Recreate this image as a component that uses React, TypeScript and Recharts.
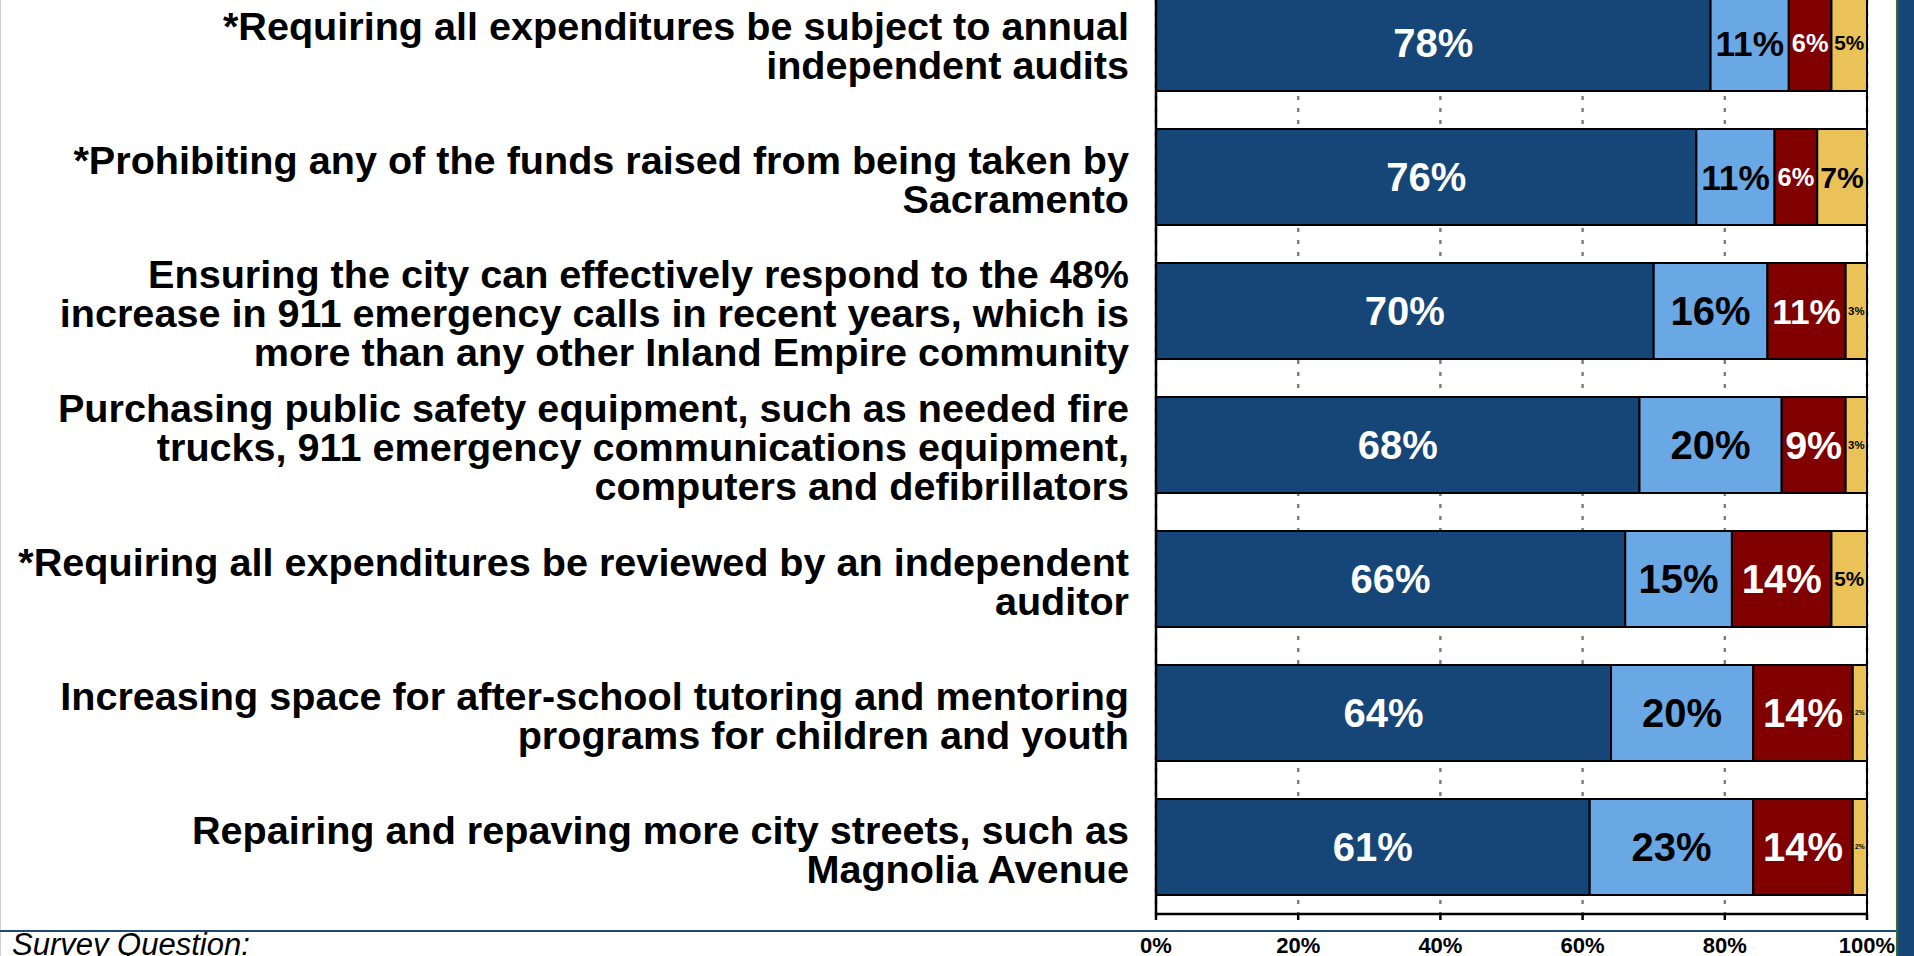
import React from "react";
import {
  BarChart,
  Bar,
  XAxis,
  YAxis,
  CartesianGrid,
  LabelList,
  ReferenceLine,
} from "recharts";

const items = [
  "*Requiring all expenditures be subject to annual\nindependent audits",
  "*Prohibiting any of the funds raised from being taken by\nSacramento",
  "Ensuring the city can effectively respond to the 48%\nincrease in 911 emergency calls in recent years, which is\nmore than any other Inland Empire community",
  "Purchasing public safety equipment, such as needed fire\ntrucks, 911 emergency communications equipment,\ncomputers and defibrillators",
  "*Requiring all expenditures be reviewed by an independent\nauditor",
  "Increasing space for after-school tutoring and mentoring\nprograms for children and youth",
  "Repairing and repaving more city streets, such as\nMagnolia Avenue",
];

const veryImportant = [78, 76, 70, 68, 66, 64, 61];
const somewhatImportant = [11, 11, 16, 20, 15, 20, 23];
const notImportant = [6, 6, 11, 9, 14, 14, 14];
const dontKnow = [5, 7, 3, 3, 5, 2, 2];

const xTicks = [0, 20, 40, 60, 80, 100];

const data = items.map((item, i) => ({
  item,
  very: veryImportant[i],
  somewhat: somewhatImportant[i],
  notImp: notImportant[i],
  dk: dontKnow[i],
}));

const FONT = '"Liberation Sans", Arial, Helvetica, sans-serif';

function ItemTick(props: any) {
  const { x, y, payload } = props;
  const lines = String(payload.value).split("\n");
  const lh = 39;
  const start = -((lines.length - 1) / 2) * lh + 16;
  return (
    <text
      x={x}
      y={y}
      textAnchor="end"
      fontFamily={FONT}
      fontWeight="bold"
      fontSize={39.6}
      fill="#000"
    >
      {lines.map((l, i) => (
        <tspan key={i} x={x} y={y + start + i * lh}>
          {l}
        </tspan>
      ))}
    </text>
  );
}

// shrink the label when the segment is too narrow, like the original slide
const segmentLabel = (color: string) => (props: any) => {
  const { x, y, width, height, value } = props;
  const chars = value >= 10 ? 2.0 : 1.445;
  const size = Math.max(4, Math.min(40, ((width - 4) / chars) * 0.95));
  return (
    <text
      x={x + width / 2}
      y={y + height / 2 + size * 0.36}
      textAnchor="middle"
      fontFamily={FONT}
      fontWeight="bold"
      fontSize={size}
      fill={color}
    >
      {value}%
    </text>
  );
};

export default function App() {
  return (
    <div
      style={{
        position: "fixed",
        left: 0,
        top: 0,
        width: 1914,
        height: 956,
        overflow: "hidden",
        background: "#fff",
        fontFamily: FONT,
      }}
    >
      <div style={{ position: "absolute", left: 0, top: -24 }}>
        <BarChart
          layout="vertical"
          width={1914}
          height={997}
          data={data}
          margin={{ top: 0, right: 47, bottom: 0, left: 0 }}
          barSize={96}
        >
          <CartesianGrid
            horizontal={false}
            stroke="#808080"
            strokeDasharray="4 8"
            strokeWidth={2.5}
          />
          <XAxis
            type="number"
            domain={[0, 100]}
            ticks={xTicks}
            interval={0}
            tickFormatter={(v) => `${v}%`}
            height={59}
            axisLine={{ stroke: "#000", strokeWidth: 2.5 }}
            tickLine={{ stroke: "#000", strokeWidth: 2.5 }}
            tickSize={6}
            tickMargin={17}
            tick={{ fill: "#000", fontSize: 22, fontWeight: "bold", fontFamily: FONT }}
          />
          <YAxis
            type="category"
            dataKey="item"
            width={1156}
            interval={0}
            axisLine={{ stroke: "#000", strokeWidth: 2.5 }}
            tickLine={false}
            tickSize={0}
            tickMargin={27}
            tick={<ItemTick />}
          />
          <Bar dataKey="very" stackId="a" fill="#154677" stroke="#000" strokeWidth={2} isAnimationActive={false}>
            <LabelList dataKey="very" content={segmentLabel("#fff")} />
          </Bar>
          <Bar dataKey="somewhat" stackId="a" fill="#69A8E5" stroke="#000" strokeWidth={2} isAnimationActive={false}>
            <LabelList dataKey="somewhat" content={segmentLabel("#000")} />
          </Bar>
          <Bar dataKey="notImp" stackId="a" fill="#800000" stroke="#000" strokeWidth={2} isAnimationActive={false}>
            <LabelList dataKey="notImp" content={segmentLabel("#fff")} />
          </Bar>
          <Bar dataKey="dk" stackId="a" fill="#EBC257" stroke="#000" strokeWidth={2} isAnimationActive={false}>
            <LabelList dataKey="dk" content={segmentLabel("#000")} />
          </Bar>
          <ReferenceLine x={100} stroke="#000" strokeWidth={2} />
        </BarChart>
      </div>

      <div style={{ position: "absolute", left: 0, top: 0, width: 1, height: 956, background: "#d0d0d0" }} />
      <div style={{ position: "absolute", left: 0, top: 930, width: 1896, height: 2, background: "#1B4A7A" }} />
      <div style={{ position: "absolute", left: 1896, top: 0, width: 2, height: 956, background: "#3B6E22" }} />
      <div style={{ position: "absolute", left: 1898, top: 0, width: 16, height: 956, background: "#154677" }} />
      <div
        style={{
          position: "absolute",
          left: 12,
          top: 927,
          fontSize: 31,
          fontStyle: "italic",
          color: "#000",
          whiteSpace: "nowrap",
        }}
      >
        Survey Question:
      </div>
    </div>
  );
}
